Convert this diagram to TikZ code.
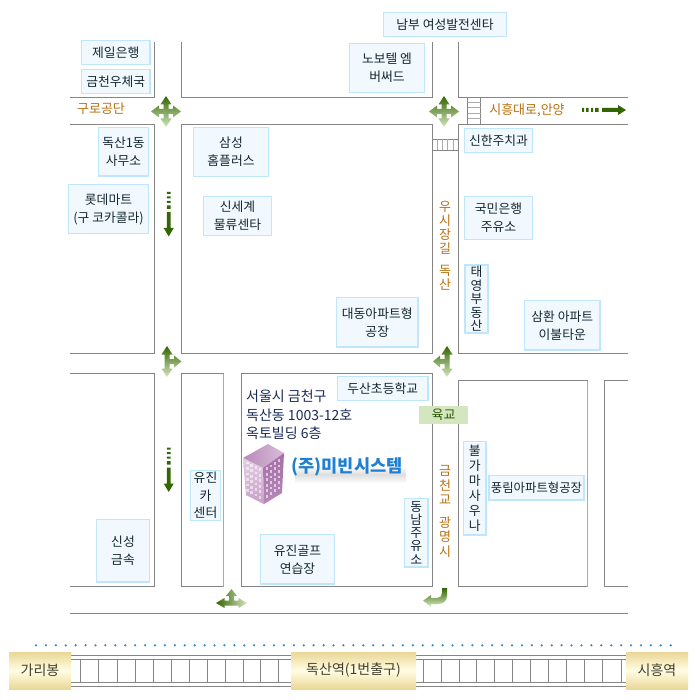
\documentclass[tikz,border=0pt]{standalone}
\usepackage{fontspec}
\setmainfont{Noto Sans CJK KR}
\usetikzlibrary{calc}
\definecolor{roadc}{HTML}{858585}
\definecolor{lblfill}{HTML}{F1F9FF}
\definecolor{lbledge}{HTML}{BFE6FA}
\definecolor{lbltext}{HTML}{14262F}
\definecolor{orangec}{HTML}{B9700F}
\definecolor{darkg}{HTML}{336600}
\definecolor{lightg}{HTML}{D3E6BF}
\definecolor{midg}{HTML}{A8CC90}
\definecolor{tanc}{HTML}{EBD797}
\definecolor{creamc}{HTML}{FFFDE3}
\definecolor{addrc}{HTML}{1A2A55}
\definecolor{compc}{HTML}{1F80D2}
\definecolor{dotc}{HTML}{2E8FD0}
\tikzset{
  road/.style={draw=roadc,line width=1pt},
  faintroad/.style={draw=roadc!70,line width=1pt},
  lbl/.style={draw=lbledge,fill=lblfill,line width=1.1pt,inner sep=0pt,align=center,text=lbltext,
     font=\fontsize{12.8}{18}\selectfont},
  roadname/.style={text=orangec,inner sep=0pt,align=center,font=\fontsize{13}{14.2}\selectfont},
  station/.style={inner sep=0pt,text=black!70!olive,font=\fontsize{14}{16}\selectfont},
  addr/.style={anchor=west,inner sep=0pt,text=addrc,font=\fontsize{14}{16}\selectfont},
  mainarrow/.style={fill=darkg,draw=none},
}
\newcommand\lb[7][]{\pgfmathsetmacro\lbx{(#2+#4)/2}\pgfmathsetmacro\lby{(#3+#5)/2}%
  \pgfmathsetmacro\lbw{#4-#2}\pgfmathsetmacro\lbh{#5-#3}%
  \node[lbl,minimum width=\lbw pt,minimum height=\lbh pt,#1] (#6) at (\lbx,\lby) {#7};}
\newcommand\stn[6]{\pgfmathsetmacro\lbx{(#1+#3)/2}\pgfmathsetmacro\lby{(#2+#4)/2}%
  \shade[top color=tanc,bottom color=tanc,middle color=creamc] (#1,#2) rectangle (#3,#4);%
  \node[station] (#5) at (\lbx,\lby) {#6};}
\begin{document}
\begin{tikzpicture}[x=1pt,y=-1pt]
\useasboundingbox (0,0) rectangle (695,700);
\fill[white] (0,0) rectangle (695,700);
% roads
\draw[road] (154.5,42) -- (154.5,97.5) -- (70,97.5);
\draw[road] (181.5,42) -- (181.5,97.5) -- (432.5,97.5) -- (432.5,42);
\draw[road] (458.5,42) -- (458.5,97.5) -- (628,97.5);
\draw[road] (70,124.5) -- (154.5,124.5) -- (154.5,353.5) -- (70,353.5);
\draw[road] (181.5,353.5) -- (181.5,124.5) -- (432.5,124.5) -- (432.5,353.5) -- cycle;
\draw[road] (628,124.5) -- (458.5,124.5) -- (458.5,353.5) -- (628,353.5);
\draw[road] (70,373.5) -- (154.5,373.5) -- (154.5,586.5) -- (70,586.5);
\draw[road] (181.5,586.5) -- (181.5,373.5) -- (223.5,373.5);
\draw[road] (181.5,586.5) -- (223.5,586.5);
\draw[faintroad] (223.5,373.5) -- (223.5,586.5);
\draw[road] (241.5,586.5) -- (241.5,373.5) -- (432.5,373.5) -- (432.5,586.5) -- cycle;
\draw[road] (458.5,586.5) -- (458.5,380.5) -- (587.5,380.5);
\draw[road] (458.5,586.5) -- (587.5,586.5);
\draw[faintroad] (587.5,380.5) -- (587.5,586.5);
\draw[road] (628,380.5) -- (604.5,380.5) -- (604.5,586.5) -- (628,586.5);
\draw[road] (70,613.5) -- (628,613.5);
% crosswalks
\draw[road] (467.5,97.5) -- (467.5,124.5) (480.5,97.5) -- (480.5,124.5);
\foreach \yy in {102.5,107.5,113.5,118.5} \draw[faintroad] (467.5,\yy) -- (480.5,\yy);
\draw[road] (432.5,139.5) -- (458.5,139.5) (432.5,150.5) -- (458.5,150.5);
\foreach \xx in {437.5,442.5,447.5,453.5} \draw[faintroad] (\xx,139.5) -- (\xx,150.5);
% railway
\foreach \yy in {655.5,659.5,682.5,686.5} {\draw[road] (71,\yy) -- (291,\yy); \draw[road] (416,\yy) -- (626,\yy);}
\foreach \xx in {80.5,98.5,117.5,135.5,153.5,171.5,189.5,207.5,225.5,243.5,260.5,278.5,423.5,441.5,459.5,476.5,494.5,512.5,530.5,548.5,566.5,584.5,602.5,621.5}
  \draw[road] (\xx,659.5) -- (\xx,682.5);
% dotted rule
\foreach \i in {0,...,64} \fill[dotc] ({36+\i*9.917},645.3) circle (1.25);
% stations
\stn{9}{652}{71}{689}{garibong}{가리봉}
\stn{291}{652}{416}{689}{doksan}{독산역(1번출구)}
\stn{626}{652}{688}{689}{siheung}{시흥역}
% labels
\lb{81.5}{40.5}{150}{64.5}{a1}{제일은행}
\lb{81.5}{69.5}{150}{93.5}{a2}{금천우체국}
\lb{98.5}{127.5}{148.5}{176}{a3}{독산1동\\사무소}
\lb{68.5}{184.5}{148.5}{233.5}{a4}{롯데마트\\(구 코카콜라)}
\lb{193.5}{127.5}{268.5}{176.5}{a5}{삼성\\홈플러스}
\lb{203.5}{196.5}{271.5}{235.5}{a6}{신세계\\물류센타}
\lb{383.5}{12.5}{506.5}{36.5}{a7}{남부 여성발전센타}
\lb{349.5}{43.5}{424.5}{92.5}{a8}{노보텔 엠\\버써드}
\lb{464.5}{128.5}{532.5}{152.5}{a9}{신한주치과}
\lb{464.5}{196.5}{532.5}{239.5}{a10}{국민은행\\주유소}
\lb[font=\fontsize{12.8}{13.5}\selectfont]{465}{265}{488}{333}{a11}{태\\영\\부\\동\\산}
\lb{524.5}{300.5}{600}{350}{a12}{삼환 아파트\\이불타운}
\lb{336.5}{297.5}{418}{347}{a13}{대동아파트형\\공장}
\lb{337.5}{376.5}{428}{400.5}{a14}{두산초등학교}
\lb[font=\fontsize{12.8}{15}\selectfont]{463.5}{441.5}{486}{535}{a15}{불\\가\\마\\사\\우\\나}
\lb[font=\fontsize{12.4}{18}\selectfont]{489}{475.5}{584}{500}{a16}{풍림아파트형공장}
\lb[font=\fontsize{12.8}{13.2}\selectfont]{404.5}{498.5}{428}{567}{a17}{동\\남\\주\\유\\소}
\lb[font=\fontsize{12.8}{17.5}\selectfont]{190.5}{470.5}{220.5}{520.5}{a18}{유진\\카\\센터}
\lb{260.5}{534.5}{334.5}{584}{a19}{유진골프\\연습장}
\lb{96.5}{519.5}{149.5}{582}{a20}{신성\\금속}
\fill[lightg] (419,406) rectangle (468,424);
\node[inner sep=0pt,text=darkg!85!black,font=\fontsize{13}{14}\selectfont] (bridge) at (443.5,415) {육교};
% road names
\node[roadname] (r1) at (101,109) {구로공단};
\node[roadname] (r2) at (527,110) {시흥대로,안양};
\node[roadname] (r3) at (445,228) {우\\시\\장\\길};
\node[roadname] (r4) at (445,278) {독\\산};
\node[roadname] (r5) at (445,485) {금\\천\\교};
\node[roadname] (r6) at (445,537) {광\\명\\시};
% address
\node[addr] (ad1) at (246,396.5) {서울시 금천구};
\node[addr] (ad2) at (246,415) {독산동 1003-12호};
\node[addr] (ad3) at (246,433) {옥토빌딩 6층};
% building
\definecolor{bldA}{HTML}{D9BCD9}\definecolor{bldB}{HTML}{B98AB9}
\definecolor{bldC}{HTML}{E4CFE4}\definecolor{bldD}{HTML}{C9A0C9}
\definecolor{bldE}{HTML}{A56EA8}\definecolor{bldF}{HTML}{B788B8}
\shade[left color=bldB,right color=bldA] (243,458) -- (268,444) -- (284,453) -- (263,468) -- cycle;
\shade[top color=bldC,bottom color=bldD] (243,458) -- (263,468) -- (264,504) -- (246,495) -- cycle;
\shade[top color=bldE,bottom color=bldF] (263,468) -- (284,453) -- (282,493) -- (264,504) -- cycle;
\foreach \j in {0,...,5}{\foreach \i in {0,...,3}{
  \pgfmathsetmacro\u{(\i+.25)/4}\pgfmathsetmacro\v{(\j+.2)/6}
  \fill[white,opacity=.55] ({245+\u*17},{460+\u*9+\v*33}) rectangle ++(2.5,2.6);
  \fill[white,opacity=.6] ({265+\u*16},{467-\u*11+\v*33}) rectangle ++(2.4,2.6);
}}
% company name with its soft shadow
\shade[top color=white,bottom color=white,middle color=black!13] (295,466) rectangle (406,483);
\node[inner sep=0pt,text=compc,font=\fontsize{17.6}{18}\selectfont\bfseries] (company) at (347,466.5) {(주)미빈시스템};
% junction arrows
\foreach \cx/\cy in {166/111.5,444/111.5}
  \shade[shift={(\cx,\cy)},top color=darkg,bottom color=lightg]
   (0,-15.5) -- (5.5,-7) -- (2.5,-7) -- (2.5,-2.5) -- (7,-2.5) -- (7,-6) -- (15,0) -- (7,6) -- (7,2.5)
   -- (2.5,2.5) -- (2.5,7) -- (5.5,7) -- (0,15.5) -- (-5.5,7) -- (-2.5,7) -- (-2.5,2.5) -- (-7,2.5) -- (-7,6)
   -- (-15,0) -- (-7,-6) -- (-7,-2.5) -- (-2.5,-2.5) -- (-2.5,-7) -- (-5.5,-7) -- cycle;
\shade[shift={(167,361.5)},top color=darkg,bottom color=lightg]
   (0,-15.5) -- (5.5,-7) -- (2.5,-7) -- (2.5,-2.5) -- (7,-2.5) -- (7,-6) -- (14.5,0) -- (7,6) -- (7,2.5)
   -- (2.5,2.5) -- (2.5,7) -- (5.5,7) -- (0,15.5) -- (-5.5,7) -- (-2.5,7) -- (-2.5,-7) -- (-5.5,-7) -- cycle;
\shade[shift={(447,361.5)},top color=darkg,bottom color=lightg]
   (0,-15.5) -- (5.5,-7) -- (2.5,-7) -- (2.5,7) -- (5.5,7) -- (0,15.5) -- (-5.5,7) -- (-2.5,7) -- (-2.5,2.5)
   -- (-7,2.5) -- (-7,6) -- (-14,0) -- (-7,-6) -- (-7,-2.5) -- (-2.5,-2.5) -- (-2.5,-7) -- (-5.5,-7) -- cycle;
\shade[shift={(231.5,603)},left color=darkg,right color=lightg]
   (0,-14) -- (5.5,-7) -- (2.5,-7) -- (2.5,-2.5) -- (7,-2.5) -- (7,-5) -- (15.5,0) -- (7,5) -- (7,2.5)
   -- (-7,2.5) -- (-7,5) -- (-15.5,0) -- (-7,-5) -- (-7,-2.5) -- (-2.5,-2.5) -- (-2.5,-7) -- (-5.5,-7) -- cycle;
% turn arrow
\shade[top color=darkg,middle color=midg,bottom color=lightg]
   (442,588) -- (447,588) -- (447,596) .. controls (447,601) and (443,604) .. (438,604) -- (431,604) -- (431,606.5)
   -- (423,600.7) -- (431,595) -- (431,598) -- (437,598) .. controls (440,598) and (442,596) .. (442,593) -- cycle;
% one-way arrows
\foreach \yo in {0,255.5}{
\begin{scope}[shift={(168.7,\yo)}]
\fill[mainarrow] (-1.9,192) rectangle (1.9,194) (-1.9,196.5) rectangle (1.9,198.5) (-1.9,201) rectangle (1.9,203) (-1.9,205.5) rectangle (1.9,209);
\fill[mainarrow] (-1.9,212) -- (1.9,212) -- (1.9,228) -- (5,228) -- (0,236.5) -- (-5,228) -- (-1.9,228) -- cycle;
\end{scope}}
\fill[mainarrow] (582,108) rectangle (584,112) (586,108) rectangle (588.5,112) (591,108) rectangle (593,112) (595,108) rectangle (598.5,112);
\fill[mainarrow] (602,108) -- (618,108) -- (618,105) -- (626,110) -- (618,115) -- (618,112) -- (602,112) -- cycle;
\end{tikzpicture}
\end{document}
